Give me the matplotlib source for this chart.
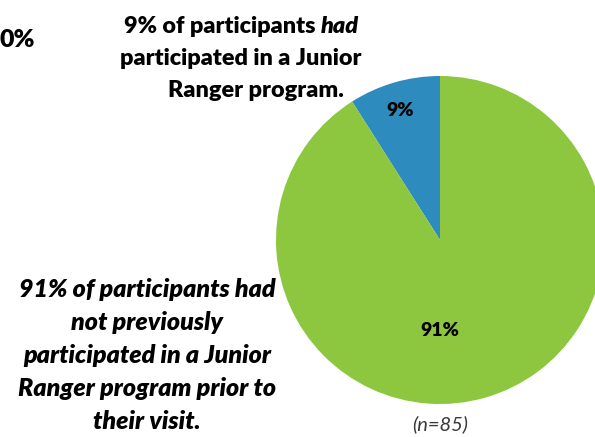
import matplotlib
matplotlib.use("Agg")
import matplotlib.pyplot as plt

# Data
categories = ["Had participated", "Had not participated"]
values = [9, 91]
colors = ["#2E8BBE", "#8DC63F"]
pct_labels = ["9%", "91%"]
sample_note = "(n=85)"
axis_stub = "0%"
top_lines = [("9% of participants ", "had"), ("participated in a Junior", None), ("Ranger program.", None)]
bottom_lines = ["91% of participants had", "not previously", "participated in a Junior",
                "Ranger program prior to", "their visit."]

W, H = 595, 437
fig = plt.figure(figsize=(W / 100, H / 100), dpi=100)
ax = fig.add_axes([0, 0, 1, 1])

cx, cy, r = 440, H - 240, 164
wedges, _ = ax.pie(values, colors=colors, startangle=90, counterclock=True,
                   center=(cx, cy), radius=r, wedgeprops=dict(linewidth=0))
ax.set_xlim(0, W)
ax.set_ylim(0, H)
ax.set_aspect("auto")
ax.axis("off")

FONT = "Lato"
WT = "heavy"
# pie value labels
ax.text(400, H - 111, pct_labels[0], ha="center", va="center", fontsize=14,
        fontweight=WT, family=FONT, color="black")
ax.text(440, H - 331, pct_labels[1], ha="center", va="center", fontsize=14,
        fontweight=WT, family=FONT, color="black")

ax.text(440, H - 424, sample_note, ha="center", va="center", fontsize=14.5,
        style="italic", fontweight="normal", family=FONT, color="#3a3a3a")

ax.text(0, H - 40, axis_stub, ha="left", va="center", fontsize=18,
        fontweight=WT, family=FONT, color="black")

# top annotation
fig.canvas.draw()
renderer = fig.canvas.get_renderer()
fs_top = 16.8
t1 = ax.text(0, H - 33, top_lines[0][0], ha="left", va="baseline", fontsize=fs_top,
             fontweight=WT, family=FONT)
t2 = ax.text(0, H - 33, top_lines[0][1], ha="left", va="baseline", fontsize=fs_top,
             fontweight=WT, style="italic", family=FONT)
w1 = t1.get_window_extent(renderer).width
w2 = t2.get_window_extent(renderer).width
x0 = 241 - (w1 + w2) / 2
t1.set_x(x0)
t2.set_x(x0 + w1)
ax.text(241, H - 65, top_lines[1][0], ha="center", va="baseline", fontsize=fs_top,
        fontweight=WT, family=FONT)
ax.text(256, H - 97, top_lines[2][0], ha="center", va="baseline", fontsize=fs_top,
        fontweight=WT, family=FONT)

# bottom-left annotation
for i, line in enumerate(bottom_lines):
    ax.text(147, H - (297 + 33 * i), line, ha="center", va="baseline", fontsize=18,
            fontweight=WT, style="italic", family=FONT)

fig.savefig("out.png", dpi=100)
